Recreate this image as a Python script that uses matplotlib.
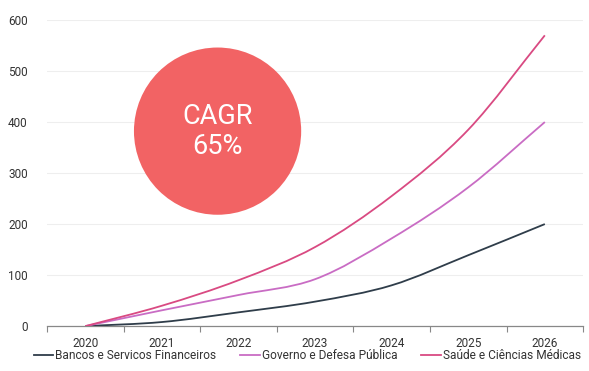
import matplotlib
matplotlib.use("Agg")
import matplotlib.pyplot as plt
from matplotlib.patches import Ellipse, PathPatch
from matplotlib.path import Path
from matplotlib.lines import Line2D

# Dados
anos = ["2020", "2021", "2022", "2023", "2024", "2025", "2026"]
bancos = [0, 8, 27, 48, 80, 139, 200]
governo = [0, 31, 61, 92, 172, 272, 400]
saude = [0, 40, 90, 155, 255, 385, 570]
series_nomes = [
    "Bancos e Servicos Financeiros",
    "Governo e Defesa Pública",
    "Saúde e Ciências Médicas",
]
cores = ["#2f3d4a", "#c96cc4", "#d94a82"]
cagr_texto = "CAGR\n65%"


def curva_suave(xs, ys):
    """Path de Bezier (Catmull-Rom) passando pelos pontos."""
    n = len(xs)
    tang = []
    for i in range(n):
        a = max(i - 1, 0)
        b = min(i + 1, n - 1)
        tang.append((ys[b] - ys[a]) / (xs[b] - xs[a]))
    verts = [(xs[0], ys[0])]
    codes = [Path.MOVETO]
    for i in range(n - 1):
        h = xs[i + 1] - xs[i]
        verts += [(xs[i] + h / 3, ys[i] + tang[i] * h / 3),
                  (xs[i + 1] - h / 3, ys[i + 1] - tang[i + 1] * h / 3),
                  (xs[i + 1], ys[i + 1])]
        codes += [Path.CURVE4] * 3
    return Path(verts, codes)


plt.rcParams["font.family"] = ["Roboto", "DejaVu Sans"]

fig = plt.figure(figsize=(5.89, 3.71), dpi=100)
ax = fig.add_axes([0.080, 0.121, 0.910, 0.825])

x = list(range(len(anos)))
handles = []
for valores, nome, cor in zip([bancos, governo, saude], series_nomes, cores):
    ax.add_patch(PathPatch(curva_suave(x, valores), facecolor="none", edgecolor=cor,
                           lw=1.3, zorder=3))
    handles.append(Line2D([], [], color=cor, lw=1.3, label=nome))

# círculo CAGR (em coordenadas de eixo, proporção corrigida)
bbox = ax.get_window_extent()
aspect = bbox.width / bbox.height
circ = Ellipse((0.318, 0.637), width=0.312, height=0.312 * aspect,
               transform=ax.transAxes, facecolor="#f26364", edgecolor="none", zorder=1)
ax.add_patch(circ)
ax.text(0.318, 0.637, cagr_texto, transform=ax.transAxes, ha="center", va="center",
        color="white", fontsize=19.5, linespacing=1.15, zorder=2)

ax.set_xlim(-0.5, len(anos) - 0.5)
ax.set_ylim(0, 600)
ax.set_yticks(range(0, 601, 100))
ax.set_xticks(x)
ax.set_xticklabels(anos)
ax.set_xticks([i - 0.5 for i in range(len(anos) + 1)], minor=True)
ax.tick_params(axis="x", which="major", length=0, pad=8, labelsize=8.5, colors="#333333")
ax.tick_params(axis="x", which="minor", length=4, color="#888888", width=0.8)
ax.tick_params(axis="y", length=0, pad=14, labelsize=8.5, colors="#333333")

ax.grid(axis="y", color="#eeeeee", lw=0.8)
ax.set_axisbelow(True)
for s in ["top", "right", "left"]:
    ax.spines[s].set_visible(False)
ax.spines["bottom"].set_color("#888888")
ax.spines["bottom"].set_linewidth(0.9)

fig.legend(handles=handles, loc="lower center", bbox_to_anchor=(0.522, -0.005), ncol=3,
           frameon=False, fontsize=8.6, handlelength=1.6, handletextpad=0.2,
           columnspacing=2.0, labelcolor="#333333")

fig.savefig("out.png", dpi=100)
